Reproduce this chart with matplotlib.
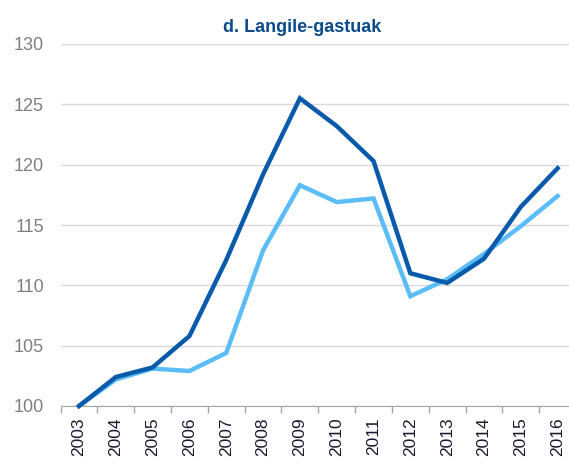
import matplotlib.pyplot as plt
import numpy as np

plt.rcParams['font.family'] = ['Liberation Sans', 'DejaVu Sans']

years = ['2003', '2004', '2005', '2006', '2007', '2008', '2009',
         '2010', '2011', '2012', '2013', '2014', '2015', '2016']
serie_ilun = [100, 102.4, 103.2, 105.8, 112.1, 119.2, 125.5,
              123.2, 120.3, 111.0, 110.2, 112.2, 116.5, 119.7]
serie_argi = [100, 102.2, 103.1, 102.9, 104.4, 112.9, 118.3,
              116.9, 117.2, 109.1, 110.5, 112.6, 114.9, 117.4]

fig = plt.figure(figsize=(5.69, 4.57), dpi=100)
ax = fig.add_axes([60.6 / 569, 51 / 457, (576 - 60.6) / 569, 362 / 457])

x = np.arange(len(years))
ax.plot(x, serie_argi, color='#5bbdf7', lw=3.2, solid_joinstyle='miter',
        zorder=3, clip_on=False)
ax.plot(x, serie_ilun, color='#0a5aab', lw=3.2, solid_joinstyle='miter',
        zorder=4, clip_on=False)

ax.set_xlim(-0.5, len(years) - 0.5)
ax.set_ylim(100, 130)
ax.set_yticks(np.arange(100, 131, 5))
ax.grid(axis='y', color='#d9d9d9', lw=1)
ax.set_axisbelow(True)

ax.set_xticks(x)
ax.set_xticklabels(years, rotation=90, fontsize=12.5, color='#1a1a2e')
ax.set_xticks(np.arange(-0.5, len(years), 1), minor=True)
ax.tick_params(axis='x', which='major', length=0, pad=8)
ax.tick_params(axis='x', which='minor', length=5, color='#a6a6a6', width=1)
ax.tick_params(axis='y', length=0, labelsize=13, labelcolor='#7f7f7f', pad=12)

for s in ['top', 'right', 'left']:
    ax.spines[s].set_visible(False)
ax.spines['bottom'].set_color('#a6a6a6')

fig.text(302 / 569, 1 - 27 / 457, 'd. Langile-gastuak', ha='center', va='center',
         fontsize=13, fontweight='bold', color='#0b4a8b')

fig.savefig('out.png', dpi=100)
